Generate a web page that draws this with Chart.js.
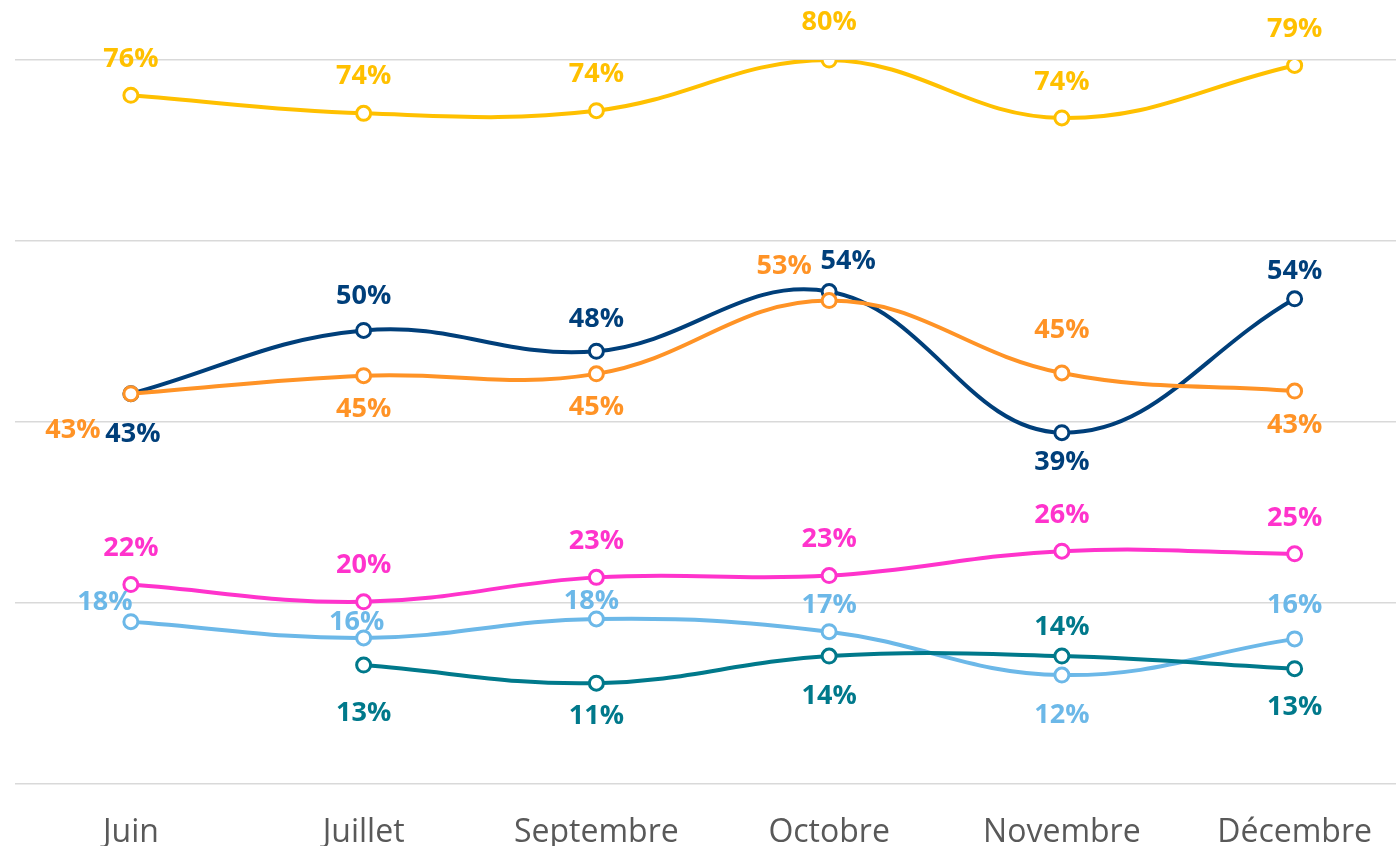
<html>
<head>
  <title>Evolution mensuelle</title>
  <script src="https://cdn.jsdelivr.net/npm/chart.js"></script>
  <style>
    html, body {
      margin: 0;
      padding: 0;
      overflow: hidden;
      background: #fff;
    }
  </style>
</head>
<body>
  <canvas id="chart" width="1421" height="882"></canvas>
  <script>
    // Données (en %)
    const mois = ['Juin', 'Juillet', 'Septembre', 'Octobre', 'Novembre', 'Décembre'];
    const jaune = [76.1, 74.1, 74.4, 80.0, 73.6, 79.4];
    const marine = [43.1, 50.1, 47.8, 54.4, 38.8, 53.6];
    const orange = [43.1, 45.1, 45.3, 53.4, 45.4, 43.4];
    const rose = [22.0, 20.1, 22.8, 23.0, 25.7, 25.4];
    const bleuClair = [17.9, 16.1, 18.2, 16.8, 12.0, 16.0];
    const sarcelle = [null, 13.1, 11.1, 14.1, 14.1, 12.7];

    // Position des étiquettes par rapport au point [dx, dy]
    const placement = {
      jaune: [[0, -36], [0, -37], [0, -36], [0, -38], [0, -36], [0, -36]],
      marine: [[2, 41], [0, -34], [0, -32], [19, -30], [0, 30], [0, -27]],
      orange: [[-58, 37], [0, 34], [0, 33], [-45, -34], [0, -43], [0, 34]],
      rose: [[0, -36], [0, -36], [0, -36], [0, -36], [0, -36], [0, -36]],
      bleuClair: [[-26, -19], [-7, -16], [-5, -18], [0, -26], [0, 40], [0, -34]],
      sarcelle: [null, [0, 48], [0, 33], [0, 40], [0, -29], [0, 39]]
    };

    function serie(cle, data, couleur) {
      return {
        label: cle,
        data: data,
        borderColor: couleur,
        backgroundColor: '#ffffff',
        borderWidth: 4,
        pointRadius: 7,
        pointBorderWidth: 3,
        pointBackgroundColor: '#ffffff',
        pointBorderColor: couleur,
        tension: 0.4,
        fill: false
      };
    }

    // etiquettes de valeur dessinées à la main (pas de plugin datalabels)
    const etiquettes = {
      id: 'etiquettes',
      afterDatasetsDraw(chart) {
        const ctx = chart.ctx;
        ctx.save();
        ctx.font = 'bold 27px "Open Sans"';
        ctx.textAlign = 'center';
        ctx.textBaseline = 'middle';
        chart.data.datasets.forEach((ds, i) => {
          const meta = chart.getDatasetMeta(i);
          meta.data.forEach((pt, j) => {
            const v = ds.data[j];
            if (v === null) return;
            const d = placement[ds.label][j] || [0, -36];
            ctx.fillStyle = ds.borderColor;
            ctx.fillText(Math.round(v) + '%', pt.x + d[0], pt.y + d[1]);
          });
        });
        ctx.restore();
      }
    };

    new Chart(document.getElementById('chart'), {
      type: 'line',
      data: {
        labels: mois,
        datasets: [
          serie('sarcelle', sarcelle, '#00798b'),
          serie('bleuClair', bleuClair, '#6cb8e8'),
          serie('rose', rose, '#ff33cc'),
          serie('orange', orange, '#ff9326'),
          serie('marine', marine, '#003f7a'),
          serie('jaune', jaune, '#ffc000')
        ]
      },
      options: {
        responsive: false,
        animation: false,
        layout: {
          padding: { left: 14.5, top: 60, right: 0, bottom: 0 }
        },
        plugins: {
          legend: { display: false },
          tooltip: { enabled: false }
        },
        scales: {
          x: {
            offset: true,
            grid: { display: false, drawTicks: false },
            border: { display: false },
            ticks: {
              color: '#595959',
              font: { family: '"Open Sans"', size: 32 },
              padding: 30,
              maxRotation: 0,
              autoSkip: false
            }
          },
          y: {
            min: 0,
            max: 80,
            grid: { color: '#d9d9d9', lineWidth: 1.5, drawTicks: false },
            border: { display: false },
            ticks: { display: false, stepSize: 20 }
          }
        }
      },
      plugins: [etiquettes]
    });
  </script>
</body>
</html>
